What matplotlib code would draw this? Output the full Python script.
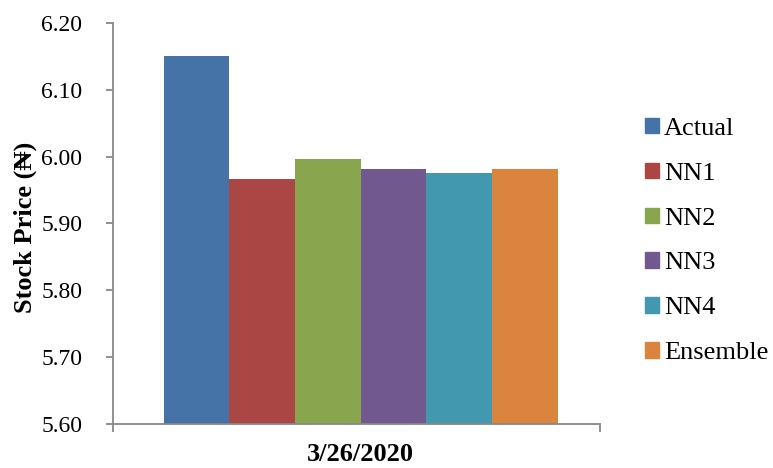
import matplotlib.pyplot as plt
from matplotlib.patches import Patch

# Values for 3/26/2020
category = '3/26/2020'
series_names = ['Actual', 'NN1', 'NN2', 'NN3', 'NN4', 'Ensemble']
prices = [6.150, 5.967, 5.997, 5.981, 5.975, 5.981]
colors = ['#4572A7', '#AA4643', '#89A54E', '#71588F', '#4198AF', '#DB843D']
y_ticks = [5.60, 5.70, 5.80, 5.90, 6.00, 6.10, 6.20]

plt.rcParams['font.family'] = ['Liberation Serif', 'DejaVu Serif']

fig = plt.figure(figsize=(7.73, 4.68), dpi=100)
ax = fig.add_axes([0.146, 0.094, 0.63, 0.857])

# one group of bars, side by side
w = 0.135
for i, (name, val, c) in enumerate(zip(series_names, prices, colors)):
    ax.bar((i - 2.5) * w + 0.009, val - 5.60, bottom=5.60, width=w, color=c, label=name)

ax.set_ylim(5.60, 6.20)
ax.set_xlim(-0.5, 0.5)
ax.set_yticks(y_ticks)
ax.set_yticklabels(['%.2f' % t for t in y_ticks])
ax.set_xticks([0.009])
ax.set_xticklabels([category], fontweight='bold')
ax.set_xticks([-0.5, 0.5], minor=True)

axis_gray = '#888888'
for side in ['top', 'right']:
    ax.spines[side].set_visible(False)
for side in ['left', 'bottom']:
    ax.spines[side].set_color(axis_gray)
    ax.spines[side].set_linewidth(1.3)

ax.tick_params(axis='y', direction='out', length=5, width=1.3, color=axis_gray, labelsize=17, pad=17)
ax.tick_params(axis='x', which='major', length=0, labelsize=19, pad=14)
ax.tick_params(axis='x', which='minor', direction='out', length=6, width=1.3, color=axis_gray)

ax.set_ylabel('Stock Price (₦)', fontsize=19, fontweight='bold')
ax.yaxis.set_label_coords(-0.155, 0.49)

handles = [Patch(color=c, label=n) for n, c in zip(series_names, colors)]
fig.legend(handles=handles, loc='center left', bbox_to_anchor=(0.834, 0.485),
           frameon=False, fontsize=19, handlelength=0.53, handleheight=0.53,
           handletextpad=0.2, labelspacing=0.86, borderaxespad=0, borderpad=0)

fig.savefig('out.png', dpi=100)
